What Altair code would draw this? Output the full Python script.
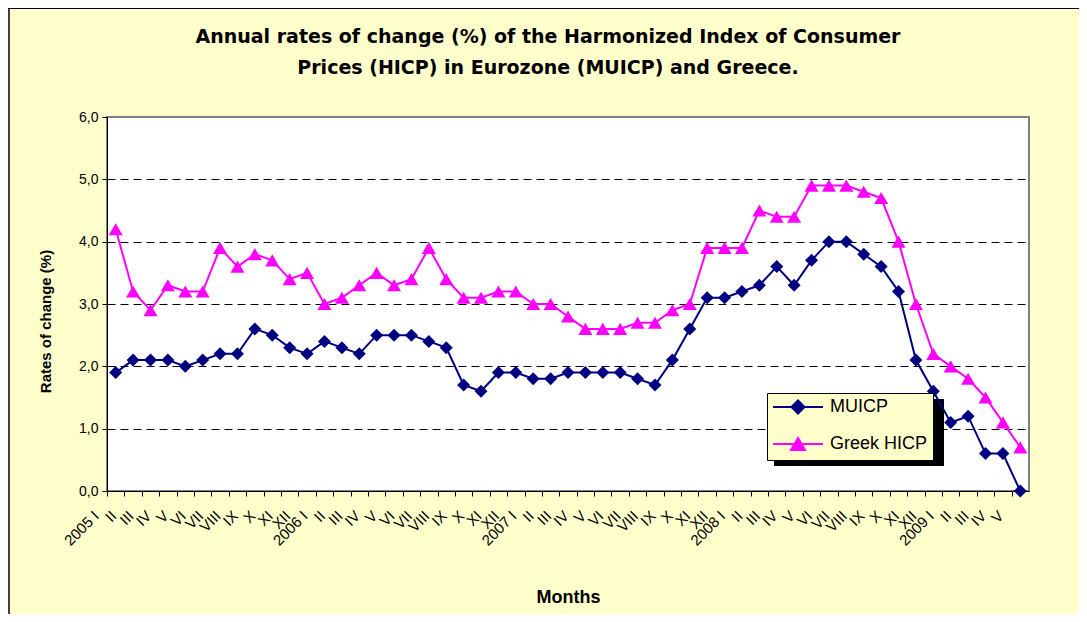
import altair as alt
import pandas as pd

# ---------------- data ----------------
roman = ["I", "II", "III", "IV", "V", "VI", "VII", "VIII", "IX", "X", "XI", "XII"]
years = ["2005", "2006", "2007", "2008", "2009"]
months_2009 = 5

month_labels = []
for y in years:
    n = months_2009 if y == "2009" else 12
    for i in range(n):
        month_labels.append(f"{y} {roman[i]}" if i == 0 else roman[i])

muicp = [1.9, 2.1, 2.1, 2.1, 2.0, 2.1, 2.2, 2.2, 2.6, 2.5, 2.3, 2.2,
         2.4, 2.3, 2.2, 2.5, 2.5, 2.5, 2.4, 2.3, 1.7, 1.6, 1.9, 1.9,
         1.8, 1.8, 1.9, 1.9, 1.9, 1.9, 1.8, 1.7, 2.1, 2.6, 3.1, 3.1,
         3.2, 3.3, 3.6, 3.3, 3.7, 4.0, 4.0, 3.8, 3.6, 3.2, 2.1, 1.6,
         1.1, 1.2, 0.6, 0.6, 0.0]
greek = [4.2, 3.2, 2.9, 3.3, 3.2, 3.2, 3.9, 3.6, 3.8, 3.7, 3.4, 3.5,
         3.0, 3.1, 3.3, 3.5, 3.3, 3.4, 3.9, 3.4, 3.1, 3.1, 3.2, 3.2,
         3.0, 3.0, 2.8, 2.6, 2.6, 2.6, 2.7, 2.7, 2.9, 3.0, 3.9, 3.9,
         3.9, 4.5, 4.4, 4.4, 4.9, 4.9, 4.9, 4.8, 4.7, 4.0, 3.0, 2.2,
         2.0, 1.8, 1.5, 1.1, 0.7]
series_names = ["MUICP", "Greek HICP"]
series_colors = ["#000080", "#FF00FF"]
y_ticks = [0, 1, 2, 3, 4, 5, 6]

n = len(month_labels)
wide = pd.DataFrame({"idx": list(range(n)), "label": month_labels,
                     "MUICP": muicp, "Greek HICP": greek})
df = wide.melt(id_vars=["idx", "label"], value_vars=series_names,
               var_name="series", value_name="value")

FONT = "Liberation Sans"
W, H = 922, 374
band = W / n

labels_js = "[" + ",".join("'" + s + "'" for s in month_labels) + "]"

x_enc = alt.X(
    "idx:Q",
    scale=alt.Scale(domain=[-0.5, n - 0.5], nice=False, zero=False),
    title="Months",
    axis=alt.Axis(
        values=list(range(n)),
        labelExpr=f"{labels_js}[datum.value]",
        labelAngle=-45, labelAlign="right", labelBaseline="middle",
        tickOffset=-band / 2, labelOffset=-11,
        tickSize=5, tickColor="black", domainColor="black",
        labelPadding=17, labelFontSize=15, labelOverlap=False, labelFlush=False,
        grid=False,
        titleFontSize=18, titleFontWeight="bold", titleY=111,
        titleBaseline="alphabetic",
    ),
)
y_enc = alt.Y(
    "value:Q",
    scale=alt.Scale(domain=[0, 6], nice=False),
    title="Rates of change (%)",
    axis=alt.Axis(
        values=y_ticks,
        labelExpr="replace(format(datum.value, '.1f'), '.', ',')",
        grid=True, gridDash=[8, 5], gridColor="black",
        gridOpacity={"condition": {"test": "datum.value >= 6 || datum.value <= 0", "value": 0}, "value": 1},
        tickSize=5, tickColor="black", domainColor="black",
        labelFontSize=14, labelPadding=4, labelFlush=False,
        titleFontSize=15, titleFontWeight="bold",
        titleX=-62, titleY=204, titleBaseline="middle", titleAngle=270,
    ),
)

base = alt.Chart(df)

line_mu = base.transform_filter(alt.datum.series == "MUICP").mark_line(
    color=series_colors[0], strokeWidth=2,
    point=alt.OverlayMarkDef(shape="diamond", filled=True, size=169,
                             color=series_colors[0], opacity=1),
).encode(x=x_enc, y=y_enc)

line_gr = base.transform_filter(alt.datum.series == "Greek HICP").mark_line(
    color=series_colors[1], strokeWidth=2,
    point=alt.OverlayMarkDef(shape="triangle-up", filled=True, size=196,
                             color=series_colors[1], opacity=1),
).encode(x=x_enc, y=y_enc)

# legend symbols: line segment with marker (unit = 7px)
legend_paths = [
    "M-1.143,0L6,0M1.5,0L2.429,-0.93L3.357,0L2.429,0.93Z",
    "M-1.143,0L6,0M2.429,-0.866L3.429,0.866L1.429,0.866Z",
]
leg = alt.Legend(
    title=None, orient="none", legendX=660, legendY=276,
    fillColor="#FFFFCC", strokeColor="black", padding=5,
    symbolSize=196, symbolStrokeWidth=2,
    symbolFillColor="#000080", symbolStrokeColor="#000080",
    labelFont=FONT, labelFontSize=18, labelColor="black",
    labelOffset=40, rowPadding=15,
)
legend_layer = base.mark_point(filled=True, opacity=0).encode(
    x=x_enc, y=y_enc,
    fill=alt.Fill("series:N", scale=alt.Scale(domain=series_names, range=series_colors), legend=leg),
    stroke=alt.Stroke("series:N", scale=alt.Scale(domain=series_names, range=series_colors), legend=leg),
    shape=alt.Shape("series:N", scale=alt.Scale(domain=series_names, range=legend_paths), legend=leg),
)

one = alt.Chart(pd.DataFrame({"a": [0]}))
shadow = one.mark_rect(color="black").encode(
    x=alt.value(667), x2=alt.value(667 + 170), y=alt.value(282), y2=alt.value(282 + 67)
)
frame_left = one.mark_rule(color="#404040", strokeWidth=2).encode(
    x=alt.value(-98), y=alt.value(-109), y2=alt.value(H + 123)
)
frame_top = one.mark_rule(color="black", strokeWidth=1).encode(
    y=alt.value(-108.5), x=alt.value(-99), x2=alt.value(W + 50)
)

chart = alt.layer(
    frame_left, frame_top, shadow, line_mu, line_gr, legend_layer
).properties(
    width=W, height=H,
    autosize=alt.AutoSizeParams(type="none"),
    padding={"left": 99, "top": 109, "right": 50, "bottom": 123},
    title=alt.Title(
        ["Annual rates of change (%) of the Harmonized Index of Consumer",
         "Prices (HICP) in Eurozone (MUICP) and Greece."],
        font="DejaVu Sans", fontSize=19, fontWeight="bold", lineHeight=31,
        anchor="middle", dx=-20, dy=94, baseline="bottom", color="black",
    ),
).configure(
    background="#FFFFCC", font=FONT,
).configure_view(
    fill="white", stroke="#808080", strokeWidth=2,
).configure_axis(
    labelFont=FONT, titleFont=FONT, labelColor="black", titleColor="black",
)

chart.save("out.html", embed_options={"renderer": "svg", "actions": False})
